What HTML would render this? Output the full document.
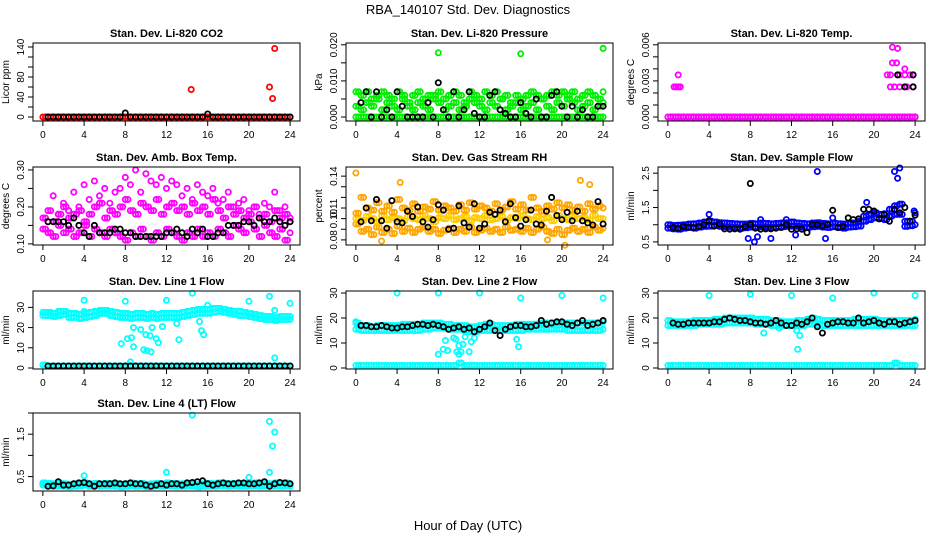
<!DOCTYPE html>
<html><head><meta charset="utf-8">
<style>
html,body{margin:0;padding:0;background:#fff;}
svg{display:block;font-family:"Liberation Sans",Arial,sans-serif;}
</style></head>
<body>
<svg id="chart" width="936" height="540" viewBox="0 0 936 540" xmlns="http://www.w3.org/2000/svg">
<text x="468" y="14" text-anchor="middle" font-size="13">RBA_140107  Std. Dev. Diagnostics</text>
<text x="468" y="530" text-anchor="middle" font-size="13">Hour of Day (UTC)</text>
</svg>
<script>
// ---- data (index i -> hour i*0.5) ----
const xTicks = [0,4,8,12,16,20,24];
const Z = [0,0,0,0,0,0,0,0,0,0,0,0,0,0,0,0,0,0,0,0,0,0,0,0,0,0,0,0,0,0,0,0,0,0,0,0,0,0,0,0,0,0,0,0,0,0,0,0,0];
const co2Blk = [null,0,0,0,0,0,0,0,0,0,0,0,0,0,0,0,8,0,0,0,0,0,0,0,0,0,0,0,0,0,0,0,6,0,0,0,0,0,0,0,0,0,0,0,0,0,0,0,0];
const co2OutX = [14.4,22,22.3,22.5];
const co2OutY = [55,60,37,137];

const presHi = [.007,.006,.007,.005,.006,.007,.006,.005,.007,.006,.004,.006,.007,.005,.006,.006,.007,.005,.006,.007,.006,.004,.007,.006,.005,.007,.006,.007,.005,.006,.004,.006,.005,.006,.007,.006,.005,.006,.007,.006,.007,.006,.007,.005,.006,.007,.006,.005,.007];
const presMid = [.003,.002,.004,.003,.005,.002,.004,.003,.002,.005,.003,.002,.004,.003,.002,.005,.004,.002,.003,.004,.002,.003,.005,.004,.003,.002,.004,.003,.005,.002,.003,.004,.002,.003,.004,.002,.005,.003,.002,.004,.003,.005,.004,.002,.003,.004,.002,.003,.004];
const presBlk = [null,.004,.007,0,.007,0,.002,0,.007,.003,0,0,0,0,.004,0,.0095,.002,0,.007,0,.002,.007,.001,0,0,.006,.007,.002,.001,0,0,.004,.001,0,.005,0,0,.006,.007,.003,0,.003,0,.002,0,0,.003,.003];
const presOutX = [8,16,24];
const presOutY = [.0178,.0175,.019];

const tempOutX = [0.6,0.8,1,1.2,1,21.3,21.6,21.6,21.8,21.8,22,22.2,22.3,22.5,22.5,23,23,23.2,23.5,23.8,23.8];
const tempOutY = [.0025,.0025,.0025,.0025,.0035,.0035,.0025,.0035,.0045,.0058,.0025,.0045,.0057,.0035,.0025,.004,.0035,.0025,.0035,.0035,.0025];
const tempBlkX = [22.3,23,23.8,23.8];
const tempBlkY = [.0035,.0025,.0035,.0025];

const ambA = [.14,.13,.12,.15,.13,.14,.12,.13,.15,.12,.14,.13,.12,.14,.13,.12,.11,.13,.12,.14,.12,.11,.13,.12,.14,.13,.12,.11,.13,.12,.14,.12,.13,.12,.14,.13,.12,.15,.14,.13,.16,.14,.12,.15,.13,.12,.14,.11,.13];
const ambB = [.17,.19,.16,.18,.2,.17,.18,.19,.16,.18,.2,.21,.17,.19,.18,.2,.22,.19,.18,.21,.2,.19,.22,.18,.2,.21,.19,.2,.18,.21,.19,.2,.18,.22,.19,.17,.2,.18,.19,.17,.18,.2,.17,.18,.16,.19,.17,.18,.16];
const ambC = [null,.16,.23,.18,.21,.19,.24,.2,.26,.22,.27,.23,.25,.21,.24,.25,.28,.26,.3,.24,.29,.27,.26,.28,.25,.27,.26,.23,.25,.22,.26,.24,.23,.25,.21,.22,.24,.2,.21,.22,.19,.2,.18,.21,.2,.24,.19,.2,.17];
const ambBlk = [null,.16,.16,.16,.16,.15,.17,.15,.13,.12,.15,.13,.13,.13,.14,.14,.13,.13,.12,.12,.12,.12,.12,.12,.13,.13,.14,.13,.12,.14,.13,.14,.12,.12,.13,.13,.15,.15,.15,.16,.16,.15,.17,.16,.16,.17,.16,.15,.16];

const rhA = [.095,.088,.09,.085,.092,.087,.09,.086,.093,.088,.091,.087,.09,.092,.088,.09,.086,.089,.091,.087,.09,.088,.092,.087,.089,.091,.088,.09,.087,.092,.089,.09,.088,.091,.087,.09,.092,.088,.086,.09,.085,.089,.091,.088,.09,.087,.092,.089,.091];
const rhB = [.1,.098,.102,.1,.097,.103,.099,.101,.1,.098,.102,.1,.099,.103,.1,.097,.101,.1,.103,.099,.1,.102,.098,.101,.1,.103,.099,.1,.102,.098,.101,.1,.103,.1,.099,.102,.1,.101,.098,.103,.1,.099,.102,.1,.101,.099,.103,.1,.1];
const rhC = [.105,.12,.11,.108,.115,.107,.112,.106,.118,.11,.108,.114,.107,.111,.109,.116,.108,.112,.11,.107,.113,.108,.115,.109,.112,.11,.107,.114,.108,.111,.116,.109,.113,.108,.12,.11,.107,.112,.109,.115,.11,.113,.108,.111,.107,.114,.109,.112,.11];
const rhBlk = [null,.097,.11,.098,.118,.098,.091,.117,.097,.096,.107,.102,.111,.097,.092,.099,.113,.108,.09,.091,.112,.096,.092,.114,.091,.095,.106,.104,.108,.097,.114,.101,.093,.099,.108,.095,.094,.107,.12,.103,.099,.106,.098,.107,.098,.096,.094,.116,.095];
const rhOutX = [0,4.3,20.3,21.8,22.7,2.5,18.6];
const rhOutY = [.143,.134,.075,.136,.132,.079,.08];

const sfA = [.9,.88,.87,.9,.92,.9,.93,.95,.96,.98,.95,.94,.93,.92,.9,.91,.93,.92,.94,.93,.92,.93,.94,.95,.96,.95,.93,.92,.94,.95,.93,.92,.94,.92,.9,.93,.94,.96,1.1,1.15,1.2,1.18,1.15,1.25,1.3,1.3,.95,.97,1.0];
const sfB = [1,.98,.99,1,1.02,1.03,1.05,1.08,1.1,1.08,1.06,1.05,1.04,1.03,1.02,1.02,1.04,1.03,1.05,1.04,1.03,1.04,1.05,1.06,1.08,1.05,1.04,1.03,1.05,1.06,1.04,1.03,1.05,1.03,1.02,1.04,1.05,1.1,1.25,1.3,1.35,1.3,1.32,1.45,1.55,1.6,1.1,1.1,1.35];
const sfBlk = [null,.92,.9,.95,.93,.92,.95,1.0,1.12,.96,1.02,.88,.87,.88,.87,.95,1.0,.9,.87,.88,.88,.9,.92,1.0,.87,.88,.87,.77,1.0,1.0,.97,1.0,1.42,.92,.95,1.2,1.15,1.17,1.45,1.45,1.4,1.17,1.3,1.1,1.45,1.35,1.5,1.1,1.28];
const sfOutX = [4,7.8,8.4,8.7,9,10,11.5,14.5,15.3,16,19.3,22,22.3,22.5,23.9,12.4];
const sfOutY = [1.3,.6,.5,.65,1.15,.6,1.15,2.55,.6,1.2,1.65,2.55,2.35,2.65,1.4,.7];
const sfBlkOutX = [8];
const sfBlkOutY = [2.2];

const l1A = [26,26,25.5,26,26.5,25,25,24.5,25,25.5,26,27,27,26,25.5,25,25,24.5,25,25,24.5,25,24.5,25,25,25,25,25.5,26,26.5,27,27,27,27.5,28,27.5,27,26.5,26,26,25.5,25,24.5,24,24,23.5,24,24,24];
const l1B = [27.5,27.5,27,28,28,27,27,26.5,27,27.5,28,28.5,28.5,28,27.5,27,27,26.5,27,27,26.5,27,26.5,27,27,27,27,27.5,28,28.5,29,29,29,29.5,29.5,29,28.5,28,28,27.5,27,26.5,26,25.5,25.5,25,25.5,25.5,25.5];
const l1Base = [1.5,1,1,1,1,1,1,1,1,1,1,1,1,1,1,1,1,1,1,1,1,1,1,1,1,1,1,1,1,1,1,1,1,1,1,1,1,1,1,1,1,1,1,1,1,1,1,1,1];
const l1Blk = [null,1,1,1,1,1,1,1,1,1,1,1,1,1,1,1,1,1,1,1,1,1,1,1,1,1,1,1,1,1,1,1,1,1,1,1,1,1,1,1,1,1,1,1,1,1,1,1,1];
const l1OutX = [4,4,8,7.6,8.2,8.5,8.6,8.8,8.8,9.5,9.8,10,10.1,10.4,10.5,10.6,11,11.2,11.6,12,13,13.2,14.5,15.2,15.4,15.6,16,20,22,22.5,22.5,24];
const l1OutY = [33.5,28,33,12,14.5,3,15,10.5,20,19,9,16.5,8.5,16,8,20,14.5,12.5,20.5,33.5,22,14,37,23,18.5,16.5,31,33,35.5,28.5,5,32];

const l2A = [15.5,15,15,15,15,15,15,15,15,15,15,15,15,15.5,15.5,16,16,16,15.5,15.5,15.5,15,14.5,14.5,15,15,15,15,15,15,15,15,15,15.5,15.5,15.5,15.5,15.5,15.5,15.5,15.5,15,15,15,15,15,15,15,15.5];
const l2B = [18,17,17,16.5,17,17,17,17,17,17.5,17.5,17.5,17.5,18,18,18,18,17.5,17.5,17,17,17,16.5,16.5,17,17.5,17.5,17,17,17,17,17.5,17.5,17.5,17.5,17.5,18,18,18,18,18,18,18,18,18,18,18,18,18.5];
const l2Base = [1,1,1,1,1,1,1,1,1,1,1,1,1,1,1,1,1,1,1,1,2,1,1,1,1,1,1,1,1,1,1,1,1,1,1,1,1,1,1,1,1,1,1,1,1,1,1,1,1];
const l2Blk = [null,17,17,16.5,16.5,17,16.5,16,16,16.5,16.5,17,17.5,17.5,17,17.5,17,16.5,15.5,16,16.5,15.5,16,14.5,15.5,16.5,18,15,13,15.5,16.5,17,17,16.5,16.5,17,19,17.5,18,18.5,18.5,17.5,17,18,19,17,17.5,18,19];
const l2OutX = [0,4,8,8,8.5,8.7,8.9,9.5,9.7,9.8,10,10,10.2,10.4,10.6,11,11.2,11.5,12,15.6,15.8,16,20,24];
const l2OutY = [18.5,30,5.5,30,7.5,11,7,12,11.5,6.5,5.5,9,6.5,9.5,12.5,6.5,10.5,12,30,11.5,8.5,28,29,28];

const l3A = [17,17,17,17,17,17,17.5,17.5,17.5,17.5,17.5,18,18,18,18,18,18,17.5,17.5,17.5,17,17,17,17,17,17,17,17.5,17.5,17,17,17,17,17,17,17,17,17,17,17,17,17,17,17,17,17,17,17,17];
const l3B = [19,18.5,18.5,18.5,18.5,19,19,19,19,19.5,19.5,20,20,20,20,20,20,19.5,19.5,19.5,19,19,18.5,18.5,18.5,19,19,19.5,20,19.5,19,19,19,19,19,19,19.5,19.5,19.5,19.5,19.5,19,19,19,19,19,19,19,19.5];
const l3Base = [1,1,1,1,1,1,1,1,1,1,1,1,1,1,1,1,1,1,1,1,1,1,1,1,1,1,1,1,1,1,1,1,1,1,1,1,1,1,1,1,1,1,1,1,2,1,1,1,1];
const l3Blk = [null,18,17.5,17.5,18,18,18,18,18,18.5,18.5,19.5,20,19.5,19,19,18.5,18,18,17.5,18,19,18,17,17,18,17.5,18.5,20,16.5,14,17.5,18,18.5,18.5,18,18,20,18,18.5,19,18,17.5,18.5,18.5,17.5,18,18.5,19];
const l3OutX = [4,8,9.3,12,12.6,12.8,12.5,16,20,24,10.8];
const l3OutY = [29,29.5,14,29,7.5,13,15,28,30,29,16];

const l4A = [.3,.28,.27,.28,.27,.26,.27,.28,.3,.27,.28,.27,.28,.28,.27,.26,.27,.28,.27,.28,.26,.27,.28,.27,.28,.28,.27,.27,.28,.27,.26,.27,.28,.27,.28,.28,.27,.28,.27,.27,.28,.28,.27,.28,.27,.28,.27,.28,.27];
const l4B = [.35,.34,.33,.34,.33,.32,.33,.34,.35,.33,.34,.33,.34,.34,.33,.32,.33,.35,.33,.34,.32,.33,.34,.33,.35,.34,.33,.33,.34,.33,.32,.33,.34,.33,.35,.34,.33,.34,.33,.33,.34,.35,.33,.34,.33,.35,.34,.35,.33];
const l4Blk = [null,.27,.28,.38,.3,.3,.33,.35,.36,.33,.27,.33,.33,.33,.35,.33,.33,.35,.33,.33,.3,.27,.3,.33,.3,.33,.33,.3,.35,.36,.38,.4,.33,.3,.33,.35,.33,.33,.35,.35,.33,.33,.35,.38,.27,.33,.36,.35,.33];
const l4OutX = [4,12,14.5,20,22,22,22.3,22.5];
const l4OutY = [.52,.6,1.95,.48,.6,1.8,1.22,1.55];

// ---- rendering ----
const NS = "http://www.w3.org/2000/svg";
const svg = document.getElementById('chart');
const H = Z.map((_, i) => i * 0.5);
function mk(tag, attrs, parent) {
  const e = document.createElementNS(NS, tag);
  for (const k in attrs) e.setAttribute(k, attrs[k]);
  (parent || svg).appendChild(e);
  return e;
}
const colL = [33, 346, 658], rowT = [43, 167, 291, 413], W = 267, PH = 78;
const panels = [
  {name:'co2', title:'Stan. Dev. Li-820 CO2', ylab:'Licor ppm', c:0, r:0, ymin:-8, ymax:148, ticks:[0,20,40,60,80,100,120,140], labels:['0','40','80','140'],
   series:[{y:Z,col:'#ff0000',dense:1},{y:co2Blk,col:'#000'},{x:co2OutX,y:co2OutY,col:'#ff0000'}]},
  {name:'pressure', title:'Stan. Dev. Li-820 Pressure', ylab:'kPa', c:1, r:0, ymin:-.0011, ymax:.0205, ticks:[0,.005,.01,.015,.02], labels:['0.000','0.010','0.020'],
   series:[{y:Z,col:'#00ee00',dense:1},{y:presMid,col:'#00ee00',dense:1},{y:presHi,col:'#00ee00',dense:1},{x:presOutX,y:presOutY,col:'#00ee00'},{y:presBlk,col:'#000'}]},
  {name:'temp', title:'Stan. Dev. Li-820 Temp.', ylab:'degrees C', c:2, r:0, ymin:-.00033, ymax:.00615, ticks:[0,.001,.002,.003,.004,.005,.006], labels:['0.000','0.003','0.006'],
   series:[{y:co2Blk.map(v=>v===null?null:0),col:'#000'},{y:Z,col:'#ff00ff',dense:1},{x:tempOutX,y:tempOutY,col:'#ff00ff'},{x:tempBlkX,y:tempBlkY,col:'#000'}]},
  {name:'amb-box', title:'Stan. Dev. Amb. Box Temp.', ylab:'degrees C', c:0, r:1, ymin:.097, ymax:.308, ticks:[.1,.15,.2,.25,.3], labels:['0.10','0.20','0.30'],
   series:[{y:ambA,col:'#ff00ff',dense:1},{y:ambB,col:'#ff00ff',dense:1},{y:ambC,col:'#ff00ff'},{y:ambBlk,col:'#000'}]},
  {name:'gas-rh', title:'Stan. Dev. Gas Stream RH', ylab:'percent', c:1, r:1, ymin:.0752, ymax:.1486, ticks:[.08,.09,.1,.11,.12,.13,.14], labels:['0.08','0.10','0.11','0.14'],
   series:[{y:rhA,col:'#ffa500',dense:1},{y:rhB,col:'#ffcc00',dense:1},{y:rhC,col:'#ffa500',dense:1},{x:rhOutX,y:rhOutY,col:'#ffa500'},{y:rhBlk,col:'#000'}]},
  {name:'sample-flow', title:'Stan. Dev. Sample Flow', ylab:'ml/min', c:2, r:1, ymin:.41, ymax:2.68, ticks:[.5,1,1.5,2,2.5], labels:['0.5','1.5','2.5'],
   series:[{y:sfA,col:'#0000ff',dense:1},{y:sfB,col:'#0000ff',dense:1},{x:sfOutX,y:sfOutY,col:'#0000ff'},{y:sfBlk,col:'#000'},{x:sfBlkOutX,y:sfBlkOutY,col:'#000'}]},
  {name:'line1', title:'Stan. Dev. Line 1 Flow', ylab:'ml/min', c:0, r:2, ymin:-.5, ymax:38.1, ticks:[0,10,20,30], labels:['0','10','20','30'],
   series:[{y:l1A,col:'#00ffff',dense:1},{y:l1B,col:'#00ffff',dense:1},{y:l1Base,col:'#00ffff',dense:1},{x:l1OutX,y:l1OutY,col:'#00ffff'},{y:l1Blk,col:'#000'}]},
  {name:'line2', title:'Stan. Dev. Line 2 Flow', ylab:'ml/min', c:1, r:2, ymin:-.4, ymax:30.8, ticks:[0,10,20,30], labels:['0','10','20','30'],
   series:[{y:l2A,col:'#00ffff',dense:1},{y:l2B,col:'#00ffff',dense:1},{y:l2Base,col:'#00ffff',dense:1},{x:l2OutX,y:l2OutY,col:'#00ffff'},{y:l2Blk,col:'#000'}]},
  {name:'line3', title:'Stan. Dev. Line 3 Flow', ylab:'ml/min', c:2, r:2, ymin:-.4, ymax:30.8, ticks:[0,10,20,30], labels:['0','10','20','30'],
   series:[{y:l3A,col:'#00ffff',dense:1},{y:l3B,col:'#00ffff',dense:1},{y:l3Base,col:'#00ffff',dense:1},{x:l3OutX,y:l3OutY,col:'#00ffff'},{y:l3Blk,col:'#000'}]},
  {name:'line4', title:'Stan. Dev. Line 4 (LT) Flow', ylab:'ml/min', c:0, r:3, ymin:.16, ymax:2.0, ticks:[.5,1,1.5,2], labels:['0.5','1.5'],
   series:[{y:l4A,col:'#00ffff',dense:1},{y:l4B,col:'#00ffff',dense:1},{x:l4OutX,y:l4OutY,col:'#00ffff'},{y:l4Blk,col:'#000'}]}
];
panels.forEach(p => {
  const L = colL[p.c], T = rowT[p.r], B = T + PH;
  const g = mk('g', {});
  
  
  const sx = v => L + (v + 0.96) / 25.92 * W;
  const sy = v => B - (v - p.ymin) / (p.ymax - p.ymin) * PH;
  const t = mk('text', {x: L + W/2, y: T - 6, 'text-anchor':'middle', 'font-size':11, 'font-weight':'bold'}, g);
  t.textContent = p.title;
  
  
  const mg = mk('g', {}, g);
  
  
  p.series.forEach(s => {
    const xs = s.x || H;
    const offs = s.dense ? [0, 0.25] : [0];
    s.y.forEach((v, i) => {
      if (v === null || v === undefined) return;
      offs.forEach(o => {
        const xv = xs[i] + o;
        if (xv > 24.2) return;
        const c = mk('circle', {cx: sx(xv).toFixed(1), cy: sy(v).toFixed(1), r: 2.6, fill:'none', stroke: s.col, 'stroke-width': 1.8}, mg);
        
        
      });
    });
  });
  const bx = mk('rect', {x:L, y:T, width:W, height:PH, fill:'none', stroke:'#000', 'stroke-width':1}, g);
  
  
  const xa = mk('g', {}, g);
  
  
  mk('line', {x1:sx(xTicks[0]), x2:sx(xTicks[xTicks.length-1]), y1:B, y2:B, stroke:'#000'}, xa);
  xTicks.forEach(v => {
    mk('line', {x1:sx(v), x2:sx(v), y1:B, y2:B+5, stroke:'#000'}, xa);
    const tl = mk('text', {x:sx(v), y:B+17, 'text-anchor':'middle', 'font-size':10}, xa);
    tl.textContent = v;
    
    
  });
  const ya = mk('g', {}, g);
  
  
  p.ticks.forEach(v => mk('line', {x1:L-5, x2:L, y1:sy(v), y2:sy(v), stroke:'#000'}, ya));
  p.labels.forEach(lab => {
    const v = parseFloat(lab), y = sy(v);
    const tl = mk('text', {x:0, y:0, transform:`translate(${L-9},${y}) rotate(-90)`, 'text-anchor':'middle', 'font-size':10}, ya);
    tl.textContent = lab;
    
    
  });
  const yt = mk('text', {x:0, y:0, transform:`translate(${L-24},${T+PH/2}) rotate(-90)`, 'text-anchor':'middle', 'font-size':10}, g);
  yt.textContent = p.ylab;
  
  
});
</script>
</body></html>
